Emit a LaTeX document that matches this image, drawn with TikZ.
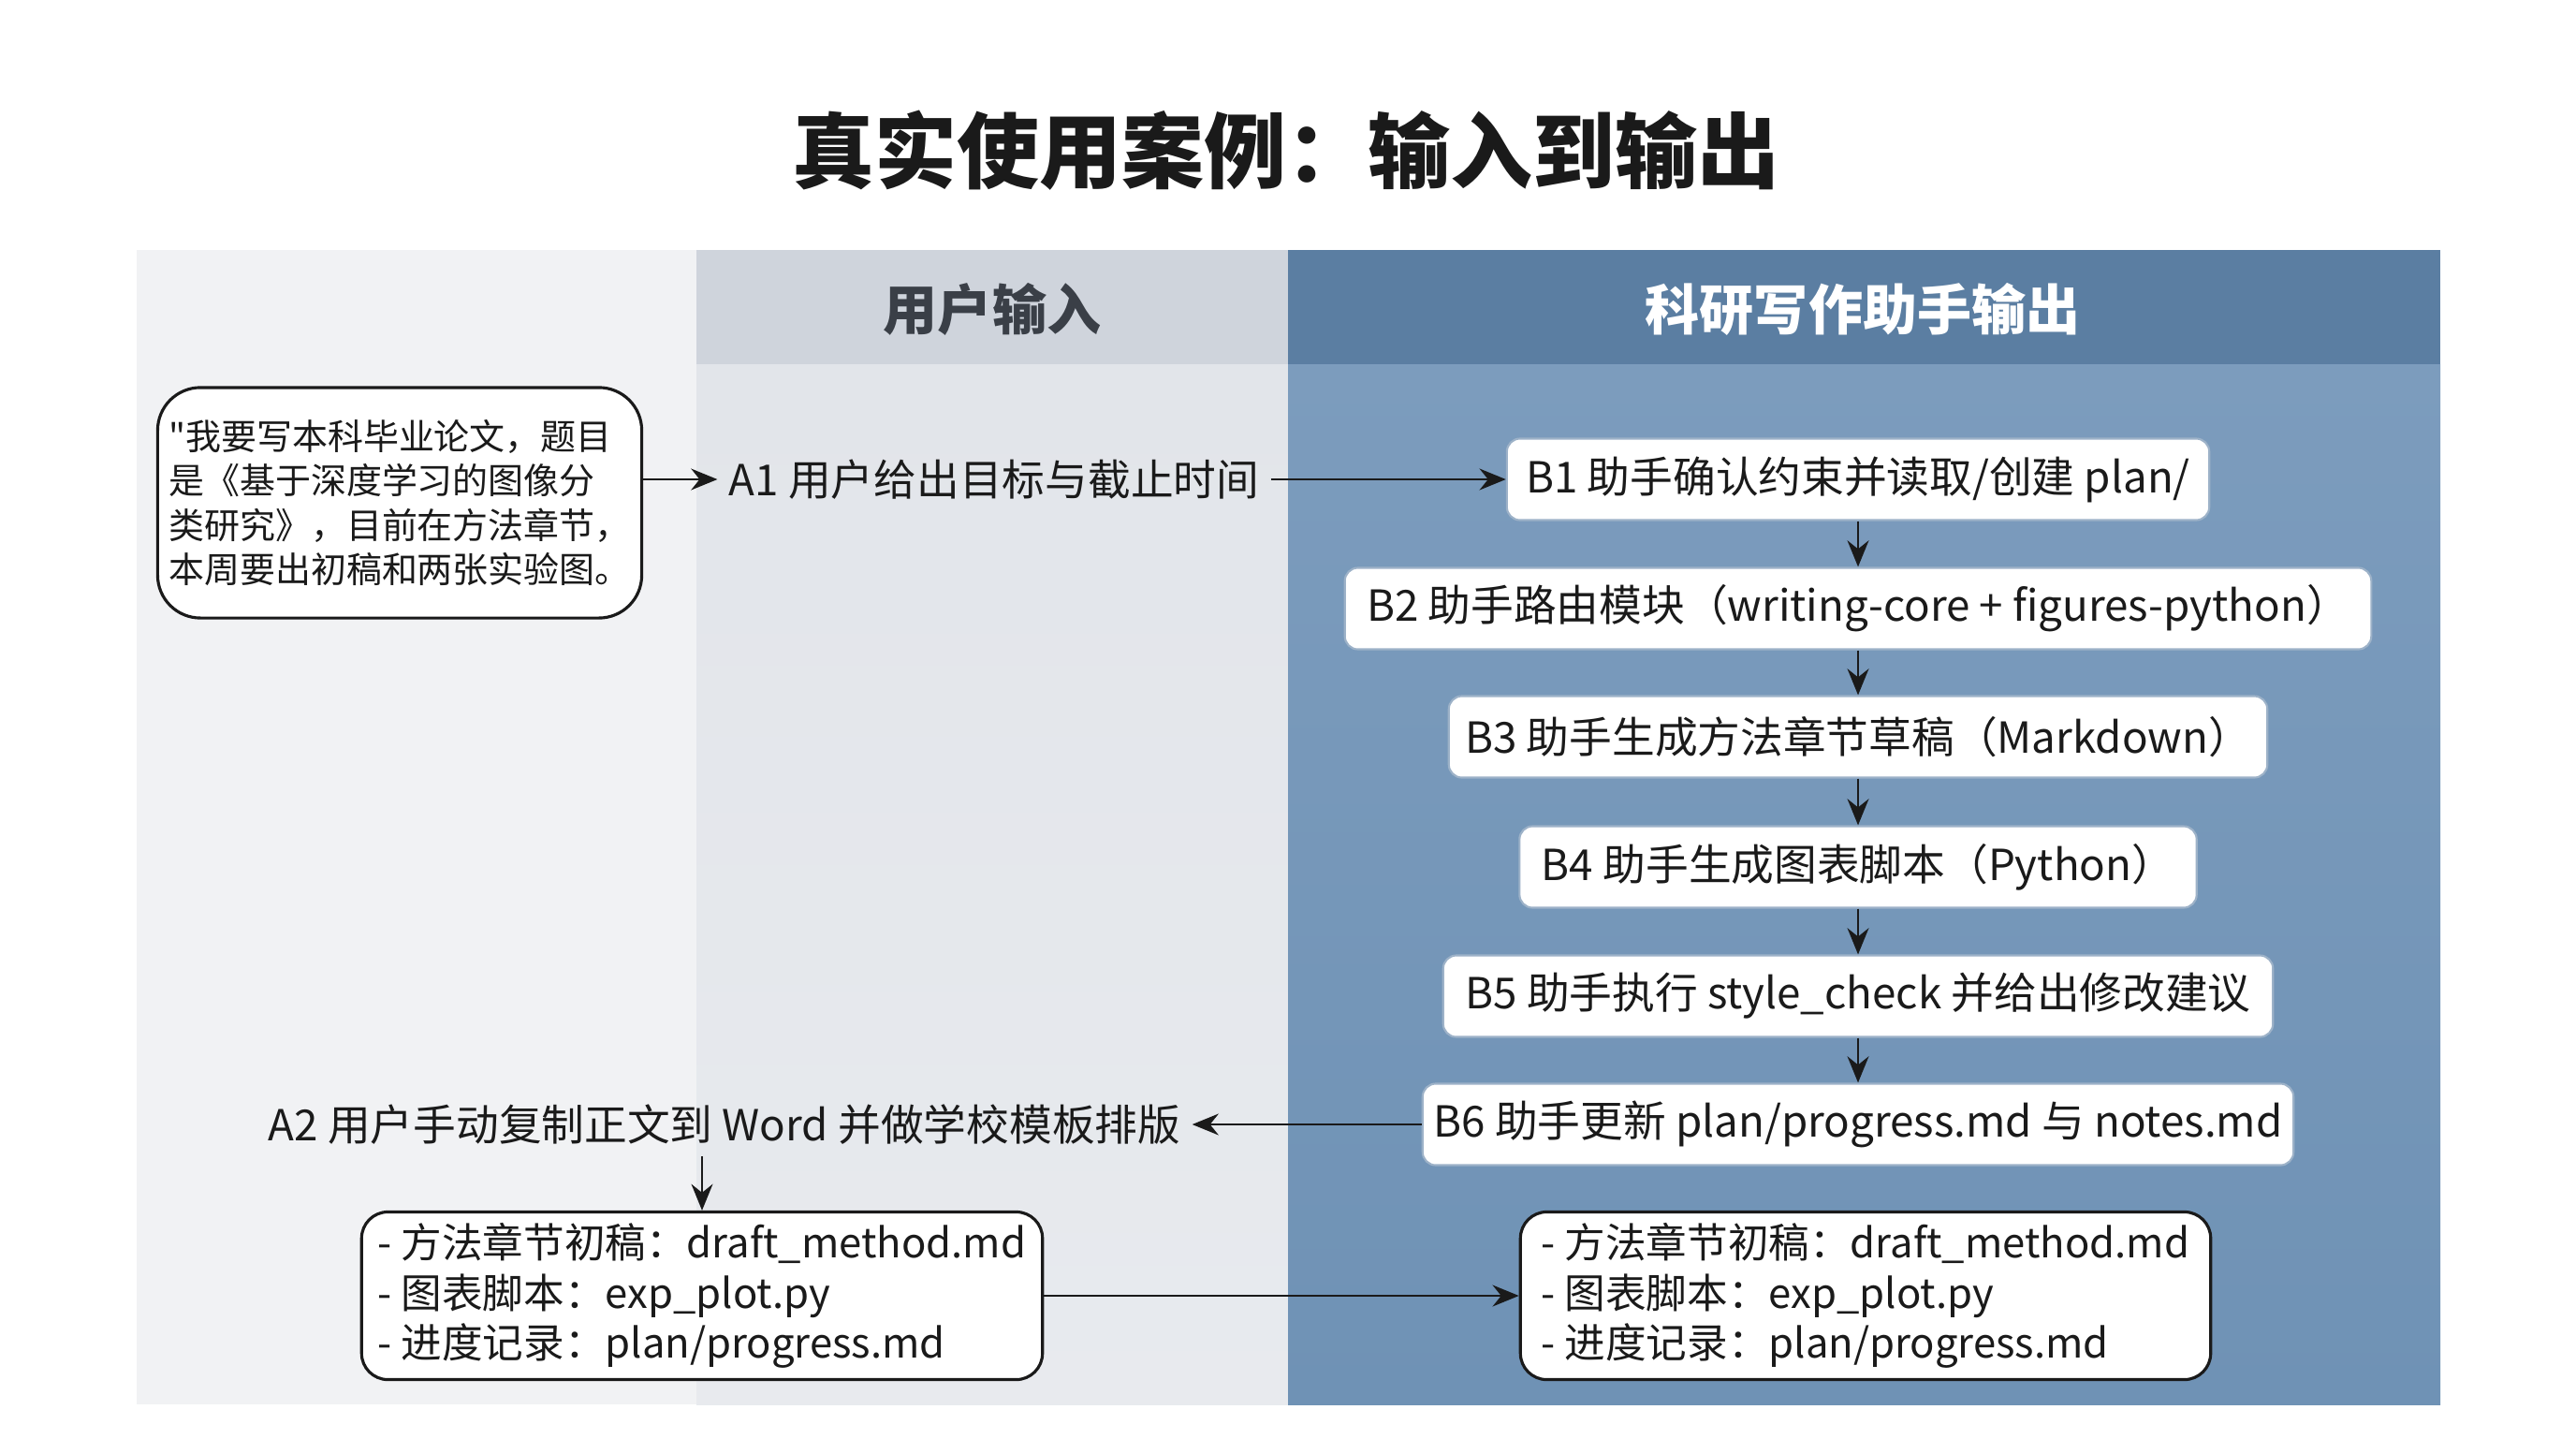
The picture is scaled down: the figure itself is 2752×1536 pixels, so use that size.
\documentclass[tikz,border=0pt]{standalone}
\usepackage{fontspec}
\setmainfont{Noto Sans CJK SC}
\newfontfamily\prosty{Noto Sans CJK SC}
\usetikzlibrary{arrows.meta}
\definecolor{tlo}{HTML}{F1F2F4}
\definecolor{srodekgora}{HTML}{CFD4DC}
\definecolor{srodek}{HTML}{E2E5EA}
\definecolor{prawygora}{HTML}{5B7EA2}
\definecolor{prawy1}{HTML}{7C9CBD}
\definecolor{prawy2}{HTML}{6F92B5}
\definecolor{ramka}{HTML}{9DB2C8}
\definecolor{czarny}{HTML}{1A1A1A}
\definecolor{szary}{HTML}{3A3F47}
\begin{document}
\begin{tikzpicture}[x=0.01cm, y=-0.01cm, >={Stealth[length=8pt,width=6.5pt]},
		font=\fontsize{13}{15}\selectfont, text=czarny,
		krok/.style={draw=ramka, line width=0.6pt, fill=white, rounded corners=4pt, minimum height=0.87cm},
		lista/.style={draw=czarny, line width=0.9pt, fill=white, rounded corners=8pt, align=left, minimum height=1.79cm, font=\fontsize{12.4}{15.2}\selectfont},
		strz/.style={->, line width=0.8pt, draw=czarny}]
		\useasboundingbox[fill=white] (0,0) rectangle (2752,1536);
		% tło trzech kolumn: użytkownik (jasna), wejście (szara), wyjście (niebieska)
		\fill[tlo] (146,267) rectangle (744,1500);
		\shade[top color=srodek, bottom color=srodek!80!white] (744,389) rectangle (1376,1500);
		\fill[srodekgora] (744,267) rectangle (1376,389);
		\shade[top color=prawy1, bottom color=prawy2] (1376,389) rectangle (2607,1500);
		\fill[prawygora] (1376,267) rectangle (2607,389);
		% tytuł i nagłówki kolumn
		\node[font=\fontsize{25}{30}\selectfont\bfseries] (tytul) at (1374,161) {真实使用案例：输入到输出};
		\node[font=\fontsize{16.5}{20}\selectfont\bfseries, text=szary] (hwej) at (1060,330) {用户输入};
		\node[font=\fontsize{16.5}{20}\selectfont\bfseries, text=white] (hwyj) at (1990,330) {科研写作助手输出};
		% wypowiedź użytkownika i kroki A
		\node[draw=czarny, line width=0.9pt, fill=white, rounded corners=13pt, minimum width=5.14cm, minimum height=2.46cm,
			align=left, font=\prosty\fontsize{10.8}{13.4}\selectfont] (cytat) at (427,537)
			{"我要写本科毕业论文，题目\\是《基于深度学习的图像分\\类研究》，目前在方法章节，\\本周要出初稿和两张实验图。};
		\node (a1) at (1062,512) {A1 用户给出目标与截止时间};
		\node (a2) at (774,1201) {A2 用户手动复制正文到 Word 并做学校模板排版};
		% kroki asystenta B1..B6
		\node[krok, minimum width=7.5cm] (b1) at (1985,512) {B1 助手确认约束并读取/创建 plan/};
		\node[krok, minimum width=10.96cm] (b2) at (1985,650) {B2 助手路由模块（writing-core + figures-python）};
		\node[krok, minimum width=8.74cm] (b3) at (1985,787) {B3 助手生成方法章节草稿（Markdown）};
		\node[krok, minimum width=7.23cm] (b4) at (1985,926) {B4 助手生成图表脚本（Python）};
		\node[krok, minimum width=8.86cm] (b5) at (1985,1064) {B5 助手执行 style\_check 并给出修改建议};
		\node[krok, minimum width=9.16cm] (b6) at (1985,1201) {B6 助手更新 plan/progress.md 与 notes.md};
		% pliki wynikowe po obu stronach
		\node[lista, minimum width=7.27cm] (wyn1) at (750,1384)
			{- 方法章节初稿：draft\_method.md\\- 图表脚本：exp\_plot.py\\- 进度记录：plan/progress.md};
		\node[lista, minimum width=7.37cm] (wyn2) at (1993,1384)
			{- 方法章节初稿：draft\_method.md\\- 图表脚本：exp\_plot.py\\- 进度记录：plan/progress.md};
		% strzałki
		\draw[strz] (cytat.east |- a1) -- (a1.west);
		\draw[strz] (a1.east) -- (b1.west);
		\foreach \i/\j in {b1/b2, b2/b3, b3/b4, b4/b5, b5/b6} \draw[strz] (\i) -- (\j);
		\draw[strz] (b6.west) -- (a2.east);
		\draw[strz] (a2.south -| wyn1.north) -- (wyn1.north);
		\draw[strz] (wyn1) -- (wyn2);
	\end{tikzpicture}
\end{document}
